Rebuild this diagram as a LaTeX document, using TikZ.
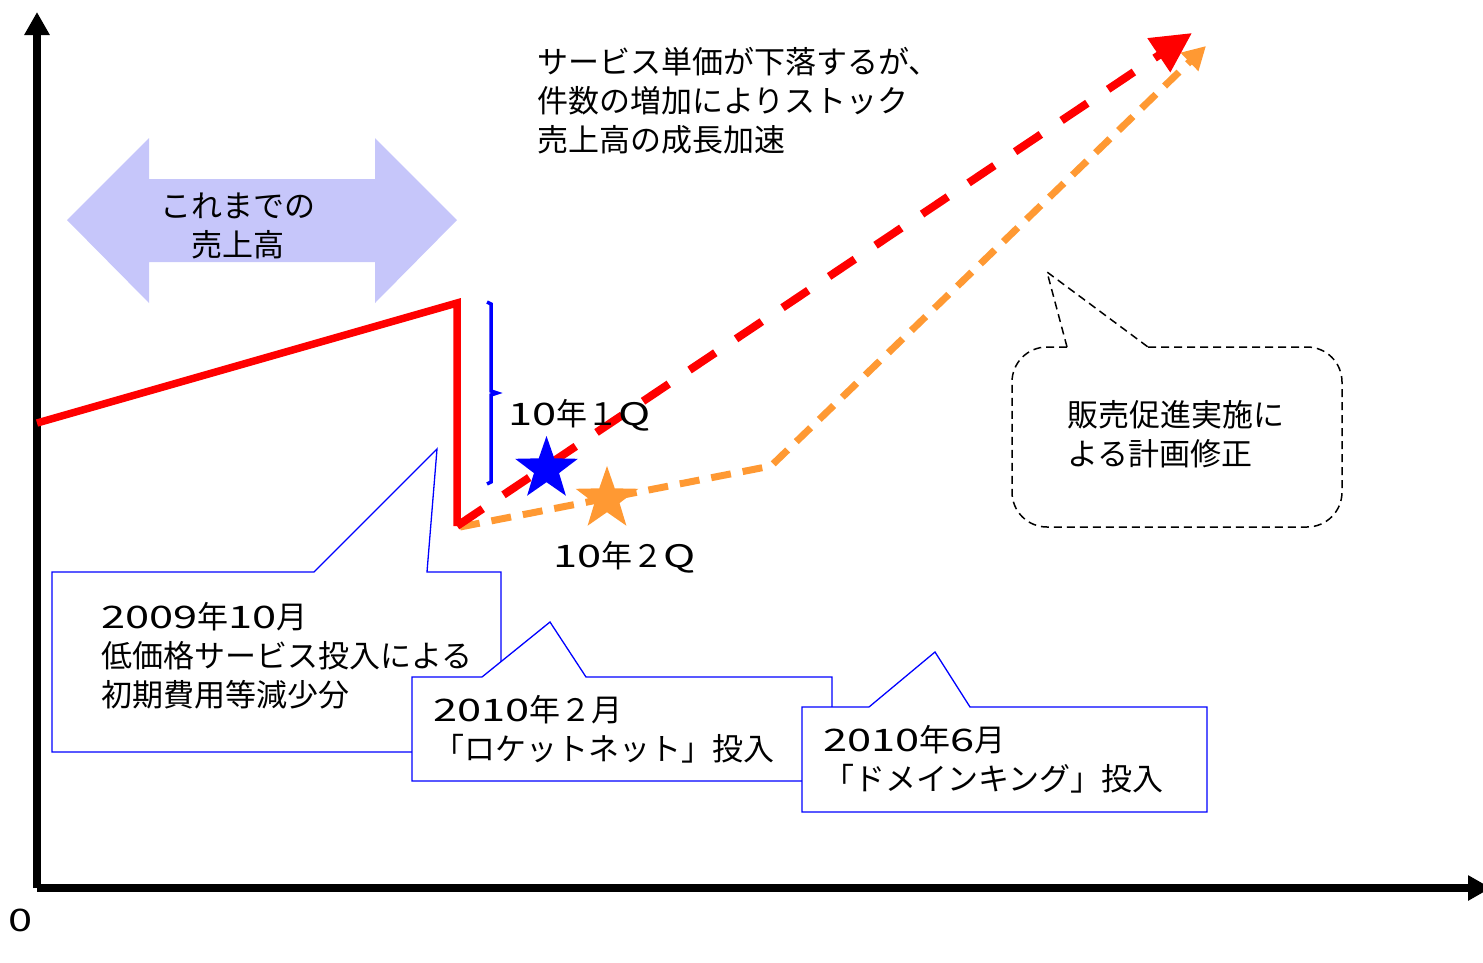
\documentclass[tikz,border=0pt]{standalone}
\usepackage{fontspec}
\setmainfont{Noto Sans CJK JP}
\usetikzlibrary{arrows.meta,shapes.geometric}
\definecolor{lavender}{RGB}{198,198,250}
\definecolor{planorange}{RGB}{255,153,51}
\newcommand\widedigits[1]{{\addfontfeature{FakeStretch=1.4}#1}}
\tikzset{
  txt/.style={inner sep=0pt,align=left,font=\fontsize{31}{39}\selectfont},
  callout/.style={draw=blue,line width=1.3pt,fill=white},
  quarter/.style={star,star points=5,star point ratio=2.5,minimum size=66pt,inner sep=0pt},
}
\begin{document}
\begin{tikzpicture}[x=1pt,y=-1pt,line join=miter]
    \useasboundingbox (0,0) rectangle (1483,962);
    \coordinate (o) at (37,888);
    \coordinate (ytop) at (37,12);
    \coordinate (xend) at (1491,888);
    \draw[line width=7.5pt,-{Triangle[length=23pt,width=24pt]}] (o) -- (ytop);
    \draw[line width=7.5pt,-{Triangle[length=23pt,width=24pt]}] (o) -- (xend);
    \node[txt] (zero) at (21,920) {\widedigits{0}};

    \fill[lavender] (67,220) -- (149,138) -- (149,179) -- (375,179) -- (375,138) -- (457,220)
      -- (375,303) -- (375,262) -- (149,262) -- (149,303) -- cycle;
    \node[txt,align=center] (past) at (238,226) {これまでの\\売上高};

    \draw[callout] (52,572) -- (314,572) -- (437,449) -- (427,572) -- (501,572) -- (501,752) -- (52,752) -- cycle;
    \node[txt,anchor=west] (c1) at (101,656) {\widedigits{2009}年\widedigits{10}月\\低価格サービス投入による\\初期費用等減少分};
    \draw[callout] (412,677) -- (482,677) -- (550,622) -- (586,677) -- (832,677) -- (832,781) -- (412,781) -- cycle;
    \node[txt,anchor=west] (c2) at (433,729) {\widedigits{2010}年２月\\「ロケットネット」投入};
    \draw[callout] (802,707) -- (869,707) -- (935,652) -- (970,707) -- (1207,707) -- (1207,812) -- (802,812) -- cycle;
    \node[txt,anchor=west] (c3) at (823,759) {\widedigits{2010}年\widedigits{6}月\\「ドメインキング」投入};

    \coordinate (start) at (37,423);
    \coordinate (peak) at (457,303);
    \coordinate (drop) at (457,526);
    \coordinate (redtip) at (1192,33);
    \coordinate (bend) at (771,466);
    \coordinate (oratip) at (1206,46);
    \draw[planorange,line width=7pt,dash pattern=on 20pt off 12pt,-{Triangle[length=23pt,width=24pt]}]
      (460,527) -- (bend) -- (oratip);
    \draw[red,line width=7.5pt] (start) -- (peak) -- (drop);
    \draw[red,line width=8pt,dash pattern=on 31pt off 25pt,-{Triangle[length=40pt,width=39pt]}] (drop) -- (redtip);

    \draw[blue,line width=3.5pt] (487,302) -- (491,304) -- (491,391) -- (497,393) -- (491,395) -- (491,482) -- (487,484);
    \node[txt,anchor=west] (q1) at (508,415) {\widedigits{10}年１\widedigits{Q}};
    \node[quarter,fill=blue] (s1) at (546.5,469) {};
    \node[quarter,fill=planorange] (s2) at (607,499) {};
    \node[txt,anchor=west] (q2) at (553,557) {\widedigits{10}年２\widedigits{Q}};

    \node[txt,anchor=west] (growth) at (537,101) {サービス単価が下落するが、\\件数の増加によりストック\\売上高の成長加速};

    \draw[line width=1.5pt,dash pattern=on 8pt off 5pt,rounded corners=35pt]
      (1148,347) -- (1342,347) -- (1342,527) -- (1012,527) -- (1012,347) -- (1067,347);
    \draw[line width=1.5pt,dash pattern=on 8pt off 5pt] (1067,347) -- (1047,272) -- (1148,347);
    \node[txt,anchor=west] (plan) at (1067,434) {販売促進実施に\\よる計画修正};
\end{tikzpicture}
\end{document}
